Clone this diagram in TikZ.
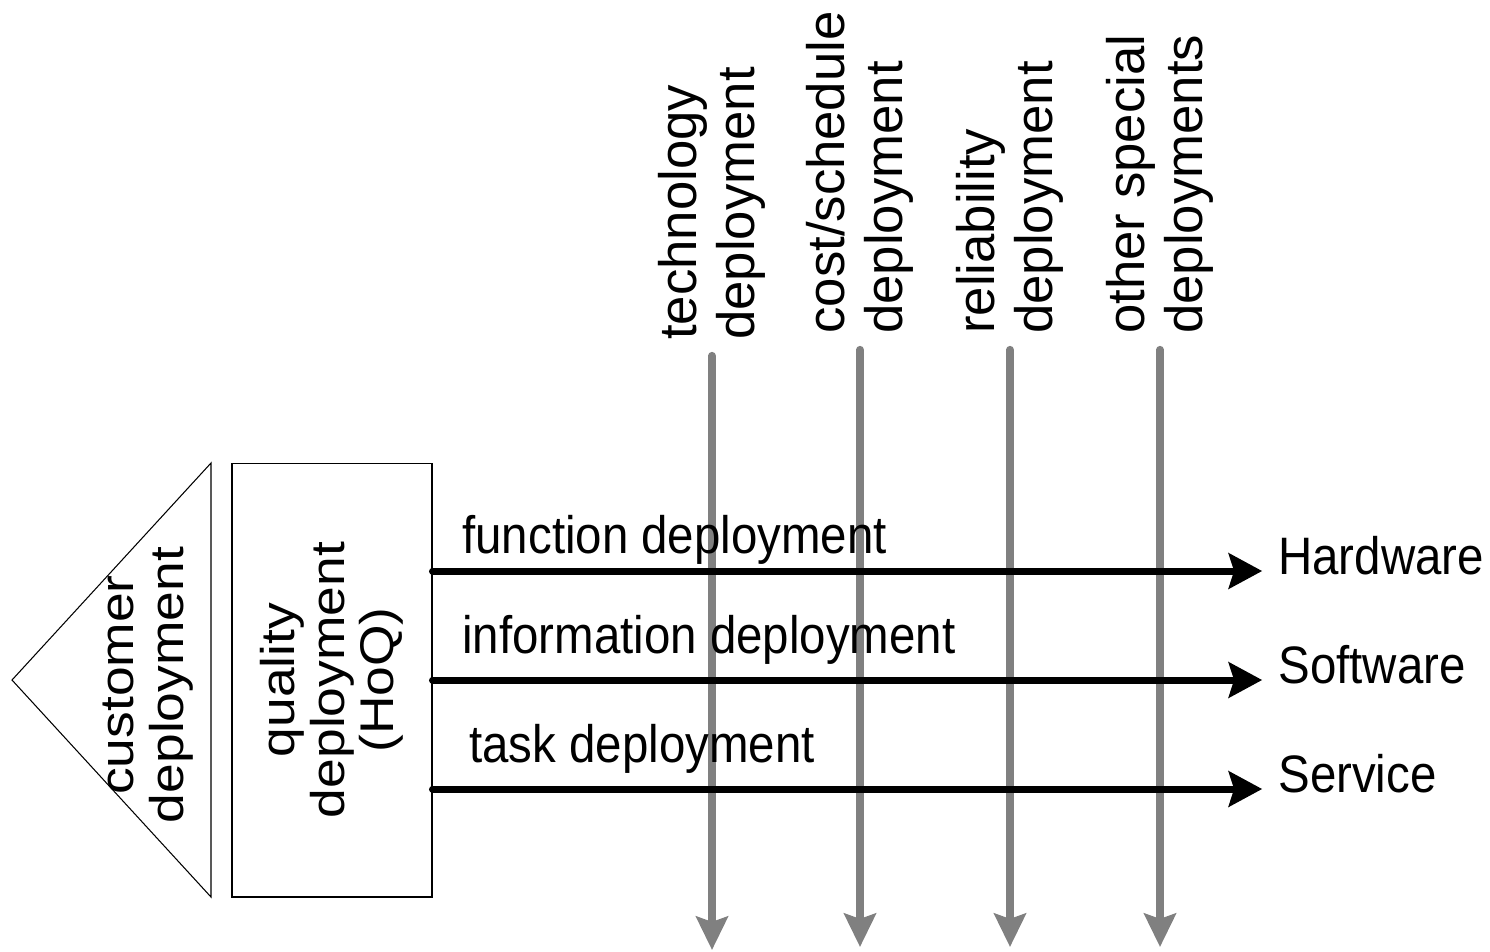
\documentclass[tikz,border=0pt]{standalone}
\usepackage{fontspec}
\setmainfont{Liberation Sans}
\newfontfamily\flatfont[FakeStretch=0.9]{Liberation Sans}
\newfontfamily\tallfont[FakeStretch=1.13]{Liberation Sans}
\usepackage{tikz}
\usetikzlibrary{arrows.meta}
\usetikzlibrary{positioning}
\definecolor{depgray}{RGB}{128,128,128}

\begin{document}
\begin{tikzpicture}[x=0.02cm, y=-0.02cm,
        flow/.style={line width=4pt, line cap=round, -{Stealth[length=19pt,width=20pt,inset=3pt]}, shorten >=9pt},
        spec/.style={line width=4.5pt, draw=depgray, line cap=round, -{Stealth[length=19pt,width=18pt,inset=3pt]}, shorten <=9pt},
        vlabel/.style={rotate=90, anchor=west, align=left, inner sep=0pt, font=\fontsize{30}{32.9}\selectfont},
        boxtext/.style={rotate=90, align=center, inner sep=0pt, font=\tallfont\fontsize{26.9}{28.3}\selectfont},
        hlabel/.style={anchor=base west, inner sep=0pt, font=\flatfont\fontsize{30}{34}\selectfont},
        result/.style={anchor=west, inner sep=0pt, text height=1.4ex, text depth=.75ex, font=\flatfont\fontsize{30}{34}\selectfont}]
        \useasboundingbox (0,0) rectangle (1490,951);
        % customer side
        \draw[line width=0.6pt] (211,463) -- (12,680) -- (211,897) -- cycle;
        \node[boxtext] (cust) at (148,685) {customer\\deployment};
        \node[boxtext, draw, line width=0.6pt, minimum width=8.68cm, minimum height=4cm] (hoq) at (332,680) {quality\\deployment\\(HoQ)};
        % special deployments
        \node[vlabel] (tech) at (712,340) {technology\\deployment};
        \node[vlabel] (cost) at (860,334) {cost/schedule\\deployment};
        \node[vlabel] (rel) at (1010,334) {reliability\\deployment};
        \node[vlabel] (other) at (1160,334) {other special\\deployments};
        \coordinate (techend) at (712,950);
        \coordinate (costend) at (860,947);
        \coordinate (relend) at (1010,947);
        \coordinate (otherend) at (1160,947);
        \draw[spec] (tech.west) -- (techend);
        \draw[spec] (cost.west) -- (costend);
        \draw[spec] (rel.west) -- (relend);
        \draw[spec] (other.west) -- (otherend);
        % products
        \node[result] (hw) at (1278,571) {Hardware};
        \node[result] (sw) at (1278,680) {Software};
        \node[result] (sv) at (1278,789) {Service};
        \draw[flow] (hoq.south |- hw.west) -- (hw.west);
        \draw[flow] (hoq.south |- sw.west) -- (sw.west);
        \draw[flow] (hoq.south |- sv.west) -- (sv.west);
        \node[hlabel] (fun) at (462,553) {function deployment};
        \node[hlabel] (info) at (462,653) {information deployment};
        \node[hlabel] (task) at (469,762) {task deployment};
\end{tikzpicture}
\end{document}
